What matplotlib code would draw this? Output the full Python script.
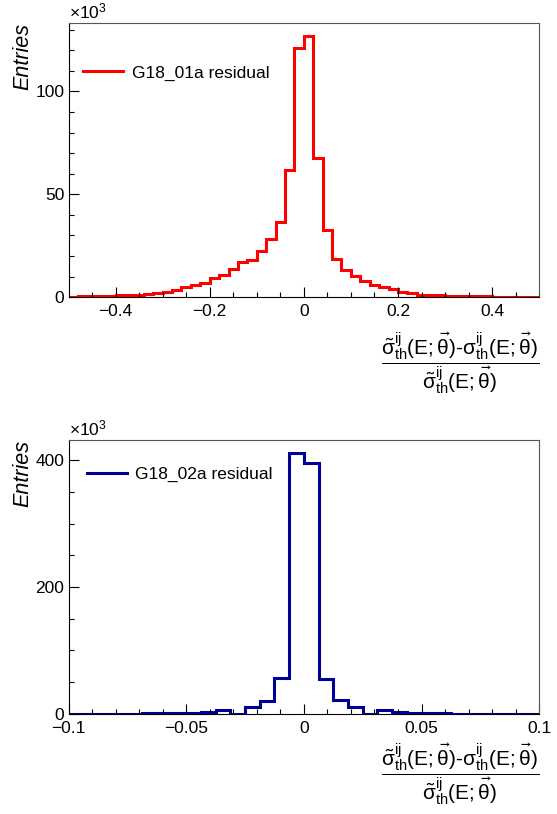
import numpy as np
import matplotlib
matplotlib.use("Agg")
import matplotlib.pyplot as plt
from matplotlib.ticker import MultipleLocator, FuncFormatter

plt.rcParams['font.family'] = ['Liberation Sans', 'DejaVu Sans']
plt.rcParams['mathtext.fontset'] = 'custom'
plt.rcParams['mathtext.rm'] = 'Liberation Sans'
plt.rcParams['mathtext.it'] = 'Liberation Sans:italic'
plt.rcParams['mathtext.default'] = 'regular'

#%% Data (entries in units of 10^3)

# G18_01a : 50 bins in [-0.5, 0.5]
lo1, hi1, nb1 = -0.5, 0.5, 50
g01 = [0.25, 0.3, 0.4, 0.5, 0.6, 0.8, 1.1, 1.1, 1.4, 1.8,
       2.4, 3.4, 4.7, 5.7, 7.0, 9.4, 10.8, 13.8, 17.2, 18.0,
       22.5, 28.3, 36.3, 62.0, 121.0, 127.0, 67.8, 32.4, 18.3, 13.0,
       10.4, 7.8, 6.1, 4.9, 3.7, 2.4, 1.8, 1.1, 1.0, 0.8,
       0.6, 0.5, 0.4, 0.3, 0.3, 0.2, 0.2, 0.15, 0.1, 0.1]
label01 = "G18_01a residual"

# G18_02a : 32 bins in [-0.1, 0.1]
lo2, hi2, nb2 = -0.1, 0.1, 32
g02 = [0.5, 0.5, 0.5, 0.5, 0.0, 1.0, 1.0, 1.5, 2.1, 3.0,
       5.8, 0.0, 10.5, 21.0, 56.0, 412.0, 396.0, 55.0, 22.0, 11.5,
       0.0, 5.8, 3.1, 2.1, 1.5, 1.0, 0.5, 0.0, 0.5, 0.5,
       0.5, 0.5]
label02 = "G18_02a residual"

xtitle = (r"$\dfrac{\tilde{\sigma}^{ij}_{th}(E;\vec{\theta})"
          r"\text{-}\sigma^{ij}_{th}(E;\vec{\theta})}"
          r"{\tilde{\sigma}^{ij}_{th}(E;\vec{\theta})}$")


def fmt(v, pos):
    return ('%g' % round(v, 6)).replace('-', '\u2212')


#%% Plot

fig = plt.figure(figsize=(5.57, 8.14), dpi=100)
ax1 = fig.add_axes([0.123, 0.635, 0.845, 0.337])
ax2 = fig.add_axes([0.123, 0.123, 0.845, 0.337])

panels = [
    (ax1, g01, lo1, hi1, nb1, '#ff0000', label01, 0.2, 0.05, 50, 10, 0.8175, 0.031, -0.12),
    (ax2, g02, lo2, hi2, nb2, '#000099', label02, 0.05, 0.01, 200, 50, 0.874, 0.039, -0.10),
]

for ax, vals, lo, hi, nb, col, lab, xmaj, xmin, ymaj, ymin, leg_y, leg_x, xl_y in panels:
    edges = np.linspace(lo, hi, nb + 1)
    ax.stairs(vals, edges, color=col, lw=2.2, label=lab, baseline=None)
    ax.set_xlim(lo, hi)
    ax.set_ylim(0, 1.05 * max(vals))
    ax.xaxis.set_major_locator(MultipleLocator(xmaj))
    ax.xaxis.set_minor_locator(MultipleLocator(xmin))
    ax.yaxis.set_major_locator(MultipleLocator(ymaj))
    ax.yaxis.set_minor_locator(MultipleLocator(ymin))
    ax.xaxis.set_major_formatter(FuncFormatter(fmt))
    ax.yaxis.set_major_formatter(FuncFormatter(fmt))
    ax.tick_params(which='both', direction='in', top=False, right=False,
                   labelsize=12.5, width=0.8)
    ax.tick_params(which='major', length=7.2, pad=5)
    ax.tick_params(axis='y', which='major', pad=3)
    ax.tick_params(which='minor', length=3.8)
    for s in ['top', 'right']:
        ax.spines[s].set_color('#555555')
    for s in ax.spines.values():
        s.set_linewidth(0.8)
    ax.set_ylabel('Entries', loc='top', fontstyle='italic', fontsize=15.5)
    ax.yaxis.set_label_coords(-0.075, 1.0)
    ax.set_xlabel(xtitle, loc='right', fontsize=15)
    ax.xaxis.set_label_coords(1.0, xl_y)
    ax.text(0.0, 1.005, r"$\times10^{3}$", transform=ax.transAxes,
            ha='left', va='bottom', fontsize=12.5)
    ax.legend(loc='center left', bbox_to_anchor=(leg_x, leg_y), frameon=False,
              fontsize=12.5, handlelength=2.3, handletextpad=0.5,
              borderpad=0, borderaxespad=0)

plt.savefig("out.png", dpi=100)
